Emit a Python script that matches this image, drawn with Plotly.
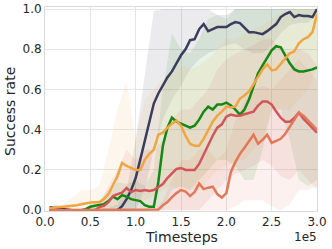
import plotly.graph_objects as go

# ---- line data (x in units of 1e5 timesteps) ----
x_line = [round(0.05 * i, 2) for i in range(1, 61)]

navy = [0.015, 0.012, 0.008, 0.005, 0.0, 0.0, 0.0, 0.0, 0.0, 0.0,
        0.0, 0.0, 0.0, 0.0, 0.0, 0.0, 0.02, 0.055, 0.10, 0.16,
        0.25, 0.34, 0.44, 0.53, 0.58, 0.62, 0.66, 0.69, 0.73, 0.77,
        0.80, 0.845, 0.85, 0.90, 0.925, 0.89, 0.90, 0.91, 0.91, 0.91,
        0.925, 0.935, 0.93, 0.905, 0.885, 0.885, 0.88, 0.875, 0.89, 0.91,
        0.925, 0.96, 0.975, 0.985, 0.96, 0.97, 0.965, 0.965, 0.96, 1.0]

green = [0.0, 0.0, 0.0, 0.0, 0.0, 0.0, 0.0, 0.0, 0.005, 0.017,
         0.022, 0.025, 0.03, 0.045, 0.067, 0.055, 0.075, 0.067, 0.055, 0.05,
         0.045, 0.025, 0.017, 0.017, 0.14, 0.32, 0.41, 0.46, 0.44, 0.43,
         0.42, 0.41, 0.42, 0.45, 0.49, 0.515, 0.50, 0.525, 0.525, 0.535,
         0.52, 0.50, 0.475, 0.50, 0.55, 0.61, 0.68, 0.72, 0.76, 0.795,
         0.815, 0.81, 0.77, 0.73, 0.70, 0.69, 0.69, 0.695, 0.70, 0.71]

orange = [0.01, 0.012, 0.015, 0.017, 0.018, 0.022, 0.025, 0.03, 0.035, 0.038,
          0.04, 0.04, 0.055, 0.08, 0.125, 0.17, 0.235, 0.22, 0.21, 0.20,
          0.20, 0.25, 0.28, 0.30, 0.375, 0.385, 0.41, 0.43, 0.445, 0.42,
          0.37, 0.33, 0.32, 0.32, 0.355, 0.40, 0.44, 0.47, 0.49, 0.515,
          0.51, 0.515, 0.555, 0.57, 0.59, 0.625, 0.66, 0.70, 0.725, 0.695,
          0.70, 0.725, 0.75, 0.78, 0.79, 0.83, 0.85, 0.86, 0.885, 0.975]

red = [0.0, 0.0, 0.0, 0.0, 0.0, 0.0, 0.0, 0.0, 0.0, 0.0,
       0.0, 0.015, 0.022, 0.04, 0.07, 0.08, 0.087, 0.11, 0.09, 0.10,
       0.095, 0.10, 0.095, 0.10, 0.115, 0.13, 0.16, 0.185, 0.205, 0.21,
       0.20, 0.20, 0.20, 0.23, 0.277, 0.327, 0.37, 0.41, 0.427, 0.465,
       0.475, 0.47, 0.47, 0.477, 0.485, 0.49, 0.52, 0.54, 0.54, 0.525,
       0.49, 0.46, 0.44, 0.44, 0.458, 0.485, 0.455, 0.43, 0.41, 0.385]

salmon = [0.0, 0.0, 0.0, 0.0, 0.0, 0.0, 0.0, 0.0, 0.0, 0.0,
          0.0, 0.0, 0.0, 0.002, 0.003, 0.003, 0.003, 0.003, 0.003, 0.003,
          0.003, 0.003, 0.003, 0.003, 0.003, 0.025, 0.04, 0.065, 0.085, 0.10,
          0.093, 0.07, 0.09, 0.133, 0.105, 0.112, 0.117, 0.08, 0.063, 0.085,
          0.19, 0.24, 0.28, 0.31, 0.345, 0.375, 0.33, 0.35, 0.375, 0.335,
          0.345, 0.355, 0.38, 0.415, 0.445, 0.485, 0.47, 0.445, 0.42, 0.40]

# ---- shaded band data ----
x_band = [round(0.1 * i, 1) for i in range(1, 31)]

navy_hi = [0.03, 0.02, 0.01, 0.01, 0.01, 0.01, 0.01, 0.03, 0.10, 0.35,
           0.68, 0.99, 1.0, 1.0, 1.0, 1.0, 1.0, 1.0, 0.97, 0.97,
           1.0, 1.0, 1.0, 1.0, 1.0, 1.0, 1.0, 1.0, 1.0, 1.0]
navy_lo = [0.0, 0.0, 0.0, 0.0, 0.0, 0.0, 0.0, 0.0, 0.0, 0.0,
           0.10, 0.30, 0.45, 0.55, 0.62, 0.70, 0.75, 0.78, 0.80, 0.82,
           0.83, 0.80, 0.78, 0.78, 0.82, 0.88, 0.92, 0.93, 0.93, 0.98]

green_hi = [0.0, 0.0, 0.0, 0.0, 0.03, 0.05, 0.10, 0.14, 0.13, 0.15,
            0.12, 0.20, 0.60, 0.88, 0.80, 0.78, 0.85, 0.95, 0.97, 0.95,
            1.0, 1.0, 1.0, 1.0, 1.0, 1.0, 1.0, 1.0, 1.0, 1.0]
green_lo = [0.0, 0.0, 0.0, 0.0, 0.0, 0.0, 0.0, 0.0, 0.0, 0.0,
            0.0, 0.0, 0.0, 0.10, 0.12, 0.10, 0.15, 0.20, 0.25, 0.25,
            0.22, 0.15, 0.15, 0.30, 0.50, 0.50, 0.35, 0.15, 0.12, 0.15]

orange_hi = [0.02, 0.03, 0.06, 0.10, 0.10, 0.12, 0.30, 0.50, 0.64, 0.35,
             0.55, 0.60, 0.65, 0.70, 0.72, 0.70, 0.72, 0.75, 0.80, 0.85,
             0.85, 0.88, 0.90, 0.92, 0.95, 0.98, 1.0, 1.0, 1.0, 1.0]
orange_lo = [0.0, 0.0, 0.0, 0.0, 0.0, 0.0, 0.0, 0.02, 0.05, 0.05,
             0.05, 0.07, 0.10, 0.12, 0.10, 0.10, 0.10, 0.15, 0.20, 0.22,
             0.25, 0.25, 0.30, 0.35, 0.50, 0.50, 0.50, 0.55, 0.60, 0.70]

red_hi = [0.0, 0.0, 0.0, 0.0, 0.0, 0.03, 0.12, 0.20, 0.30, 0.25,
          0.30, 0.30, 0.35, 0.45, 0.50, 0.50, 0.55, 0.60, 0.70, 0.75,
          0.78, 0.80, 0.82, 0.85, 0.85, 0.80, 0.78, 0.80, 0.78, 0.72]
red_lo = [0.0, 0.0, 0.0, 0.0, 0.0, 0.0, 0.0, 0.0, 0.0, 0.0,
          0.0, 0.0, 0.0, 0.0, 0.0, 0.0, 0.0, 0.05, 0.10, 0.15,
          0.18, 0.20, 0.22, 0.25, 0.22, 0.17, 0.15, 0.20, 0.15, 0.10]

salmon_hi = [0.0, 0.0, 0.0, 0.0, 0.0, 0.0, 0.0, 0.0, 0.0, 0.0,
             0.0, 0.0, 0.05, 0.15, 0.25, 0.25, 0.30, 0.30, 0.25, 0.30,
             0.45, 0.55, 0.60, 0.62, 0.60, 0.65, 0.70, 0.75, 0.70, 0.65]
salmon_lo = [0.0, 0.0, 0.0, 0.0, 0.0, 0.0, 0.0, 0.0, 0.0, 0.0,
             0.0, 0.0, 0.0, 0.0, 0.0, 0.0, 0.0, 0.0, 0.0, 0.0,
             0.02, 0.05, 0.05, 0.05, 0.02, 0.0, 0.03, 0.10, 0.10, 0.12]

x_ticks = [0.0, 0.5, 1.0, 1.5, 2.0, 2.5, 3.0]
y_ticks = [0.0, 0.2, 0.4, 0.6, 0.8, 1.0]

series = [
    ("navy", navy, navy_hi, navy_lo, (58, 61, 92)),
    ("green", green, green_hi, green_lo, (20, 135, 20)),
    ("orange", orange, orange_hi, orange_lo, (240, 165, 65)),
    ("red", red, red_hi, red_lo, (210, 85, 88)),
    ("salmon", salmon, salmon_hi, salmon_lo, (227, 120, 88)),
]

fig = go.Figure()
FONT = "DejaVu Sans"

for name, ys, hi, lo, (r, g, b) in series:
    fig.add_trace(go.Scatter(
        x=x_band + x_band[::-1], y=hi + lo[::-1],
        fill="toself", fillcolor=f"rgba({r},{g},{b},0.10)",
        line=dict(width=0), mode="lines", hoverinfo="skip", showlegend=False))

for name, ys, hi, lo, (r, g, b) in series:
    fig.add_trace(go.Scatter(
        x=x_line, y=ys, mode="lines", name=name,
        line=dict(color=f"rgb({r},{g},{b})", width=2.5), showlegend=False))

fig.update_layout(
    width=332, height=249,
    margin=dict(l=45, r=15, t=7, b=38),
    paper_bgcolor="white", plot_bgcolor="white",
    font=dict(family=FONT, size=12, color="#262626"),
    xaxis=dict(range=[0, 3.0], tickvals=x_ticks, tickformat=".1f",
               showgrid=True, gridcolor="#e6e6e6", gridwidth=1,
               showline=True, linecolor="#dadada", linewidth=1, mirror=True,
               zeroline=False, ticks="", ticklen=0, automargin=False),
    yaxis=dict(range=[-0.004, 1.01], tickvals=y_ticks, tickformat=".1f",
               showgrid=True, gridcolor="#e6e6e6", gridwidth=1,
               showline=True, linecolor="#dadada", linewidth=1, mirror=True,
               zeroline=False, ticks="", ticklen=0, automargin=False),
    annotations=[
        dict(text="Timesteps", x=0.5, y=-0.128, xref="paper", yref="paper",
             xanchor="center", yanchor="middle", showarrow=False,
             font=dict(size=14, color="#262626")),
        dict(text="Success rate", x=-0.129, y=0.49, xref="paper", yref="paper",
             xanchor="center", yanchor="middle", textangle=-90, showarrow=False,
             font=dict(size=14, color="#262626")),
        dict(text="1e5", x=0.956, y=-0.125, xref="paper", yref="paper",
             xanchor="center", yanchor="middle", showarrow=False,
             font=dict(size=12, color="#262626")),
    ],
)

fig.write_html("out.html",
               config={"displayModeBar": False},
               post_script="document.body.style.margin='0';document.body.style.overflow='hidden';")
